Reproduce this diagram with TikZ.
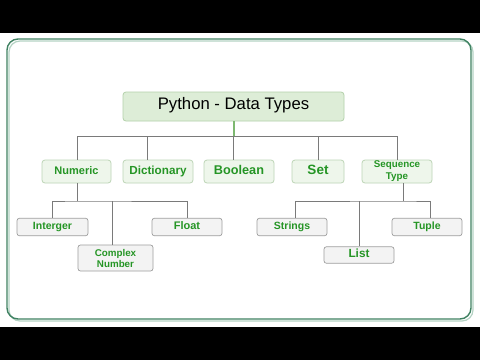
\documentclass[tikz,border=0pt]{standalone}
\usepackage{fontspec}
\setmainfont{Liberation Sans}
\definecolor{framec}{HTML}{3F8262}
\definecolor{framelt}{HTML}{B5D3C4}
\definecolor{titlefill}{HTML}{DDEDD7}
\definecolor{titledraw}{HTML}{B3D1AA}
\definecolor{lvtwofill}{HTML}{EEF6EB}
\definecolor{lvtwodraw}{HTML}{BDD5B6}
\definecolor{lvthreefill}{HTML}{F3F3F3}
\definecolor{lvthreedraw}{HTML}{9E9E9E}
\definecolor{txtgreen}{HTML}{259525}
\definecolor{linec}{HTML}{7A7A7A}
\definecolor{stubc}{HTML}{7DB870}
\begin{document}
\begin{tikzpicture}[x=1pt,y=-1pt,
  titlebox/.style={draw=titledraw, fill=titlefill, line width=0.8pt, rounded corners=3pt, inner sep=0pt,
    minimum width=221pt, minimum height=29pt, text height=0.72em, text depth=0.21em, font=\fontsize{16.7}{18}\selectfont},
  typebox/.style={draw=lvtwodraw, fill=lvtwofill, line width=0.8pt, rounded corners=3pt, inner sep=0pt,
    minimum height=23pt, align=center, text=txtgreen},
  subbox/.style={draw=lvthreedraw, fill=lvthreefill, line width=0.7pt, rounded corners=2.5pt, inner sep=0pt,
    minimum height=17.5pt, align=center, text=txtgreen},
  oneline/.style={text height=0.72em, text depth=0.21em},
  conn/.style={draw=linec, line width=0.9pt}
]
\useasboundingbox (0,0) rectangle (480,360);
\fill[black] (0,0) rectangle (480,33);
\fill[black] (0,327) rectangle (480,360);
\fill[white] (0,33) rectangle (480,327);
% frame
\draw[framelt, line width=1.2pt, rounded corners=11pt] (9,41) rectangle (473,321);
\draw[framec, line width=1.4pt, rounded corners=11pt] (7,39) rectangle (471,319);

% nodes
\node[titlebox] (title) at (233.5,106.5) {Python - Data Types};

\node[typebox, oneline, minimum width=69pt, font=\bfseries\fontsize{11}{12}\selectfont] (num) at (76.5,171.5) {Numeric};
\node[typebox, oneline, minimum width=70pt, font=\bfseries\fontsize{11.7}{12}\selectfont] (dict) at (158,171.5) {Dictionary};
\node[typebox, oneline, minimum width=70pt, font=\bfseries\fontsize{12.7}{13}\selectfont] (bool) at (239,171.5) {Boolean};
\node[typebox, oneline, minimum width=52pt, font=\bfseries\fontsize{13.5}{14}\selectfont] (set) at (318,171.5) {Set};
\node[typebox, minimum width=70pt, font=\bfseries\fontsize{9.8}{12}\selectfont] (seq) at (397,171.5) {Sequence\\Type};

\node[subbox, oneline, minimum width=71pt, font=\bfseries\fontsize{10.5}{11}\selectfont] (int) at (52.5,227) {Interger};
\node[subbox, minimum width=75pt, minimum height=26pt, font=\bfseries\fontsize{9.8}{11}\selectfont] (cplx) at (115.5,258) {Complex\\Number};
\node[subbox, oneline, minimum width=70pt, font=\bfseries\fontsize{11}{12}\selectfont] (flt) at (187,227) {Float};

\node[subbox, oneline, minimum width=70pt, font=\bfseries\fontsize{10.5}{11}\selectfont] (str) at (292,227) {Strings};
\node[subbox, oneline, minimum width=70pt, minimum height=16.5pt, font=\bfseries\fontsize{11.8}{12}\selectfont] (lst) at (359,255) {List};
\node[subbox, oneline, minimum width=70pt, font=\bfseries\fontsize{10.5}{11}\selectfont] (tup) at (427,227) {Tuple};

% junctions
\coordinate (j1) at (233.5,136.5);
\coordinate (j2) at (77,201);
\coordinate (j3) at (403,201);

% title to types
\draw[stubc, line width=2pt] (title.south) -- (j1);
\draw[conn] (num.north -| j2) |- (seq.north |- j1) -- (seq.north);
\draw[conn] ([xshift=-11pt]dict.north) -- ([xshift=-11pt]dict.north |- j1);
\draw[conn] (j1) -- (j1 |- bool.north);
\draw[conn] (set.north) -- (set.north |- j1);

% numeric subtree
\draw[conn] (num.south -| j2) -- (j2);
\draw[conn] (int.north) |- (j2) -| (flt.north);
\draw[conn] ([xshift=-3.5pt]cplx.north) -- ([xshift=-3.5pt]cplx.north |- j2);

% sequence subtree
\draw[conn] (seq.south -| j3) -- (j3);
\draw[conn] ([xshift=3pt]str.north) |- (j3) -| ([xshift=3pt]tup.north);
\draw[conn] (lst.north) -- (lst.north |- j3);
\end{tikzpicture}
\end{document}
